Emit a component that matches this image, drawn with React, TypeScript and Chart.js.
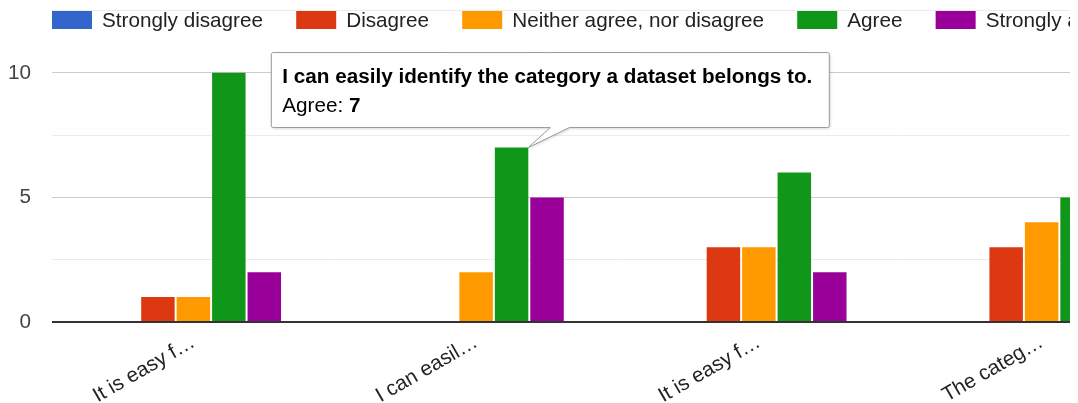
import React, { useEffect, useRef } from "react";
import { Chart, registerables } from "chart.js";

Chart.register(...registerables);

// ---- data ----
const categories = ["It is easy f…", "I can easil…", "It is easy f…", "The categ…"];
const seriesNames = ["Strongly disagree", "Disagree", "Neither agree, nor disagree", "Agree", "Strongly agree"];
const stronglyDisagree = [0, 0, 0, 0];
const disagree = [1, 0, 3, 3];
const neither = [1, 2, 3, 4];
const agree = [10, 7, 6, 5];
const stronglyAgree = [2, 5, 2, 2];
const seriesColors = ["#3366cc", "#dc3912", "#ff9900", "#109618", "#990099"];
const yTickLabels = [0, 5, 10];
const tooltipTitle = "I can easily identify the category a dataset belongs to.";
const tooltipSeries = 3;
const tooltipCategory = 1;

const FONT = "Arial, 'Liberation Sans', sans-serif";
const FS = 20.7;
const seriesValues = [stronglyDisagree, disagree, neither, agree, stronglyAgree];

const baselinePlugin = {
  id: "baseline",
  afterDatasetsDraw(chart: any) {
    const { ctx, chartArea, scales } = chart;
    const y = scales.y.getPixelForValue(0);
    ctx.save();
    ctx.strokeStyle = "#333333";
    ctx.lineWidth = 2;
    ctx.beginPath();
    ctx.moveTo(chartArea.left, y);
    ctx.lineTo(chartArea.right, y);
    ctx.stroke();
    ctx.restore();
  },
};

const legendPlugin = {
  id: "customLegend",
  afterDraw(chart: any) {
    const { ctx } = chart;
    ctx.save();
    ctx.font = `${FS}px ${FONT}`;
    ctx.textBaseline = "middle";
    ctx.textAlign = "left";
    let x = 44;
    seriesNames.forEach((name, i) => {
      ctx.fillStyle = seriesColors[i];
      ctx.fillRect(x, 3, 40, 18);
      ctx.fillStyle = "#222222";
      ctx.fillText(name, x + 50, 13);
      x += 50 + ctx.measureText(name).width + 33.2;
    });
    ctx.restore();
  },
};

const tooltipPlugin = {
  id: "fixedTooltip",
  afterDraw(chart: any) {
    const { ctx } = chart;
    const bar = chart.getDatasetMeta(tooltipSeries).data[tooltipCategory] as any;
    if (!bar) return;
    const tipX = bar.x + bar.width / 2;
    const tipY = bar.y;
    ctx.save();
    ctx.font = `bold ${FS}px ${FONT}`;
    const titleW = ctx.measureText(tooltipTitle).width;
    const bx = tipX - 257;
    const by = tipY - 95;
    const bw = titleW + 28;
    const bh = 75;
    const r = 2;
    ctx.beginPath();
    ctx.moveTo(bx + r, by);
    ctx.lineTo(bx + bw - r, by);
    ctx.quadraticCurveTo(bx + bw, by, bx + bw, by + r);
    ctx.lineTo(bx + bw, by + bh - r);
    ctx.quadraticCurveTo(bx + bw, by + bh, bx + bw - r, by + bh);
    ctx.lineTo(tipX + 41, by + bh);
    ctx.lineTo(tipX, tipY);
    ctx.lineTo(tipX + 22, by + bh);
    ctx.lineTo(bx + r, by + bh);
    ctx.quadraticCurveTo(bx, by + bh, bx, by + bh - r);
    ctx.lineTo(bx, by + r);
    ctx.quadraticCurveTo(bx, by, bx + r, by);
    ctx.closePath();
    ctx.shadowColor = "rgba(0,0,0,0.18)";
    ctx.shadowBlur = 3;
    ctx.shadowOffsetX = 1;
    ctx.shadowOffsetY = 1;
    ctx.fillStyle = "#ffffff";
    ctx.fill();
    ctx.shadowColor = "transparent";
    ctx.strokeStyle = "#9a9a9a";
    ctx.lineWidth = 1;
    ctx.stroke();

    ctx.fillStyle = "#000000";
    ctx.textBaseline = "alphabetic";
    ctx.textAlign = "left";
    ctx.fillText(tooltipTitle, bx + 11, by + 30);
    const label = `${seriesNames[tooltipSeries]}: `;
    ctx.font = `${FS}px ${FONT}`;
    ctx.fillText(label, bx + 11, by + 59);
    const lw = ctx.measureText(label).width;
    ctx.font = `bold ${FS}px ${FONT}`;
    ctx.fillText(String(seriesValues[tooltipSeries][tooltipCategory]), bx + 11 + lw, by + 59);
    ctx.restore();
  },
};

export default function App() {
  const canvasRef = useRef<HTMLCanvasElement | null>(null);

  useEffect(() => {
    if (!canvasRef.current) return;
    const chart = new Chart(canvasRef.current, {
      type: "bar",
      data: {
        labels: categories,
        datasets: seriesValues.map((vals, i) => ({
          label: seriesNames[i],
          data: vals,
          backgroundColor: seriesColors[i],
          borderWidth: 0,
          barPercentage: 0.944,
          categoryPercentage: 0.627,
        })),
      },
      options: {
        responsive: false,
        animation: false,
        events: [],
        layout: { padding: { top: 2.5, left: 0, right: 0, bottom: 0 } },
        plugins: {
          legend: { display: false },
          tooltip: { enabled: false },
        },
        scales: {
          x: {
            grid: { display: false },
            border: { display: false },
            ticks: {
              autoSkip: false,
              maxRotation: 30,
              minRotation: 30,
              padding: 0,
              color: "#222222",
              font: { family: FONT, size: FS },
            },
            afterFit: (s: any) => {
              s.height = 81;
              s.paddingLeft = 0;
              s.paddingRight = 0;
            },
          },
          y: {
            min: 0,
            max: 12.5,
            border: { display: false },
            grid: {
              drawTicks: false,
              color: (c: any) => {
                const v = c.tick ? c.tick.value : 0;
                if (v === 0) return "rgba(0,0,0,0)";
                return yTickLabels.includes(v) ? "#cccccc" : "#ebebeb";
              },
              lineWidth: 1,
            },
            ticks: {
              stepSize: 2.5,
              padding: 21,
              color: "#444444",
              font: { family: FONT, size: FS },
              callback: (v: any) => (yTickLabels.includes(Number(v)) ? String(v) : ""),
            },
            afterFit: (s: any) => {
              s.width = 44;
              s.paddingTop = 0;
              s.paddingBottom = 0;
            },
          },
        },
      },
      plugins: [baselinePlugin, legendPlugin, tooltipPlugin],
    });
    return () => chart.destroy();
  }, []);

  return (
    <div style={{ width: 1063, height: 395, overflow: "hidden" }}>
      <canvas ref={canvasRef} width={1175} height={395} style={{ display: "block" }} />
    </div>
  );
}
